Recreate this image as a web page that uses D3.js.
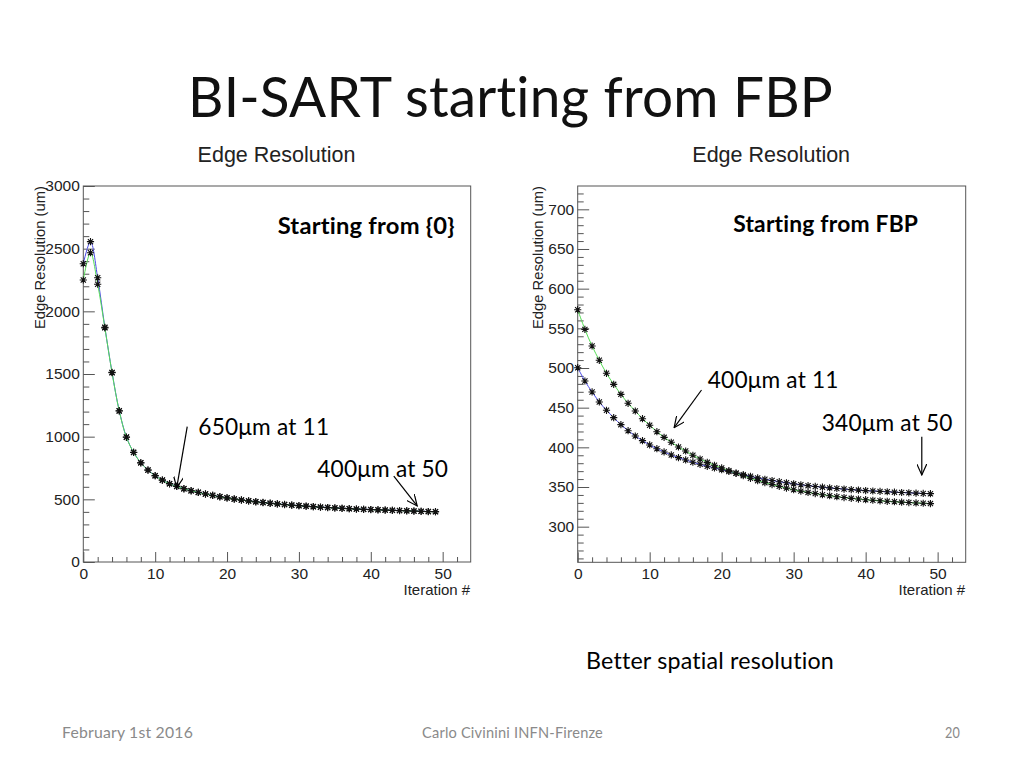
<!DOCTYPE html>
<html>
<head>
<meta charset="utf-8">
<script src="https://cdn.jsdelivr.net/npm/d3@7"></script>
<style>
  html, body { margin: 0; padding: 0; background: #fff; }
  svg { display: block; }
  text.slide { font-variant-ligatures: none; font-feature-settings: "liga" 0, "clig" 0; letter-spacing: 0.2px; }
</style>
</head>
<body>
<svg id="chart" width="1024" height="768"></svg>
<script>
// ---------------- DATA ----------------
const iterations = d3.range(0, 50); // iteration index 0..49

// Left panel: starting from {0}
const leftBlue = [2380, 2556, 2268, 1873, 1513, 1207, 997, 875, 792, 734,
  689, 654, 625, 604, 585, 569, 556, 543, 532, 521,
  512, 503, 495, 488, 481, 475, 469, 464, 459, 454,
  450, 446, 442, 438, 435, 432, 429, 426, 423, 421,
  419, 417, 415, 413, 411, 409, 407, 405, 403, 402];
const leftGreen = [2250, 2468, 2216, 1868, 1510, 1205, 995, 874, 791, 733,
  688, 653, 624, 603, 584, 568, 555, 542, 531, 520,
  511, 502, 494, 487, 480, 474, 468, 463, 458, 453,
  449, 445, 441, 437, 434, 431, 428, 425, 422, 420,
  418, 416, 414, 412, 410, 408, 406, 404, 402, 401];

// Right panel: starting from FBP
const rightBlue = [500.4, 483.6, 469.8, 457.2, 446.7, 437.4, 428.6, 421.0, 414.3, 408.4,
  403.0, 398.3, 394.2, 390.4, 387.0, 384.1, 381.2, 378.6, 376.1, 374.0,
  371.8, 369.6, 367.5, 365.6, 363.5, 361.5, 359.8, 358.2, 356.7, 355.3,
  354.0, 352.8, 351.7, 350.7, 349.8, 348.9, 348.1, 347.4, 346.7, 346.1,
  345.5, 345.0, 344.5, 344.0, 343.5, 343.1, 342.7, 342.3, 341.9, 341.6];
const rightGreen = [573.5, 548.7, 527.7, 509.7, 493.3, 479.4, 466.8, 455.5, 445.8, 436.1,
  427.8, 419.7, 412.6, 406.4, 400.4, 395.4, 390.0, 385.3, 381.1, 377.4,
  374.0, 370.6, 367.3, 364.3, 361.0, 358.0, 355.5, 353.0, 350.8, 348.6,
  346.6, 344.8, 343.2, 341.7, 340.3, 339.0, 337.8, 336.7, 335.7, 334.8,
  334.0, 333.3, 332.6, 332.0, 331.4, 330.9, 330.4, 329.9, 329.5, 329.1];

// Axis tick values
const xMajorTicks = [0, 10, 20, 30, 40, 50];
const xMinorTicks = d3.range(0, 54, 2);
const leftYMajorTicks = [0, 500, 1000, 1500, 2000, 2500, 3000];
const leftYMinorTicks = d3.range(0, 3001, 100);
const rightYMajorTicks = [300, 350, 400, 450, 500, 550, 600, 650, 700];
const rightYMinorTicks = d3.range(260, 730, 10);

// Text
const slideTitle = "BI-SART starting from FBP";
const panelTitle = "Edge Resolution";
const yAxisTitle = "Edge Resolution (um)";
const xAxisTitle = "Iteration #";
const leftLabel = "Starting from {0}";
const rightLabel = "Starting from FBP";
const leftNotes = [
  { text: "650\u03bcm at 11", tx: 16.0, ty: 1013, from: [14.46, 1080], to: [13.0, 593] },
  { text: "400\u03bcm at 50", tx: 32.55, ty: 676, from: [43.2, 686], to: [46.45, 447] }
];
const rightNotes = [
  { text: "400\u03bcm at 11", tx: 18.06, ty: 474.4, from: [17.2, 472.3], to: [13.4, 424.8] },
  { text: "340\u03bcm at 50", tx: 33.9, ty: 421, from: [47.8, 413.4], to: [47.8, 365.2] }
];
const bottomNote = "Better spatial resolution";
const footerDate = "February 1st 2016";
const footerAuthor = "Carlo Civinini INFN-Firenze";
const footerPage = "20";

// ---------------- DRAWING ----------------
const svg = d3.select("#chart");
svg.append("rect").attr("width", 1024).attr("height", 768).attr("fill", "#fff");

const defs = svg.append("defs");
defs.append("marker")
  .attr("id", "openArrow")
  .attr("markerUnits", "userSpaceOnUse")
  .attr("viewBox", "0 0 12 10")
  .attr("refX", 11).attr("refY", 5)
  .attr("markerWidth", 12).attr("markerHeight", 10)
  .attr("orient", "auto")
  .append("path")
  .attr("d", "M0,0 L11,5 L0,10")
  .attr("fill", "none").attr("stroke", "#000").attr("stroke-width", 1.2);

const SLIDE_FONT = "Lato, 'Open Sans', sans-serif";
const ROOT_FONT = "'Liberation Sans', Arial, Helvetica, sans-serif";

function fitText(sel, w) {
  sel.attr("class", "slide").attr("textLength", w).attr("lengthAdjust", "spacingAndGlyphs");
  return sel;
}

// Slide title
fitText(svg.append("text")
  .attr("x", 188).attr("y", 117)
  .attr("font-family", SLIDE_FONT).attr("font-size", 57)
  .attr("fill", "#111")
  .text(slideTitle), 645);

function starPath(s) {
  const a = s * 0.72;
  return `M${-s},0H${s}M0,${-s}V${s}M${-a},${-a}L${a},${a}M${-a},${a}L${a},${-a}`;
}

function drawPanel(cfg) {
  const { left, right, top, bottom } = cfg.frame;
  const x = d3.scaleLinear().domain(cfg.xDomain).range([left, right]);
  const y = d3.scaleLinear().domain(cfg.yDomain).range([bottom, top]);
  const g = svg.append("g");

  // panel title
  g.append("text")
    .attr("x", (left + right) / 2 - 0.5).attr("y", 162)
    .attr("text-anchor", "middle")
    .attr("font-family", ROOT_FONT).attr("font-size", 21.5)
    .attr("fill", "#222")
    .text(panelTitle);

  // frame
  g.append("rect")
    .attr("x", left).attr("y", top)
    .attr("width", right - left).attr("height", bottom - top)
    .attr("fill", "none").attr("stroke", "#555").attr("stroke-width", 1);

  // minor ticks
  const xMinor = g.append("g").attr("transform", `translate(0,${bottom})`)
    .call(d3.axisBottom(x).tickValues(xMinorTicks.filter(v => xMajorTicks.indexOf(v) < 0)).tickSize(-5).tickFormat(""));
  const yMinor = g.append("g").attr("transform", `translate(${left},0)`)
    .call(d3.axisLeft(y).tickValues(cfg.yMinor.filter(v => cfg.yMajor.indexOf(v) < 0)).tickSize(-6).tickFormat(""));

  // major ticks
  const xAx = g.append("g").attr("transform", `translate(0,${bottom})`)
    .call(d3.axisBottom(x).tickValues(xMajorTicks).tickSize(-10).tickPadding(5.5).tickFormat(d3.format("d")));
  const yAx = g.append("g").attr("transform", `translate(${left},0)`)
    .call(d3.axisLeft(y).tickValues(cfg.yMajor).tickSize(-11.5).tickPadding(3.5).tickFormat(d3.format("d")));

  [xMinor, yMinor, xAx, yAx].forEach(a => {
    a.select(".domain").remove();
    a.selectAll(".tick line").attr("stroke", "#555").attr("stroke-width", 1);
    a.selectAll("text").attr("font-family", ROOT_FONT).attr("font-size", 15.5).attr("fill", "#222");
  });

  // axis titles
  g.append("text")
    .attr("x", right - 0.5).attr("y", 595)
    .attr("text-anchor", "end")
    .attr("font-family", ROOT_FONT).attr("font-size", 15)
    .attr("fill", "#222")
    .text(xAxisTitle);

  const clipId = "clip" + cfg.id;
  defs.append("clipPath").attr("id", clipId)
    .append("rect").attr("x", cfg.yTitleX - 10).attr("y", 150).attr("width", 30).attr("height", 250);
  g.append("g")
    .attr("clip-path", `url(#${clipId})`)
    .append("text")
    .attr("transform", `translate(${cfg.yTitleX},${top}) rotate(-90)`)
    .attr("text-anchor", "end")
    .attr("font-family", ROOT_FONT).attr("font-size", 14.8)
    .attr("fill", "#222")
    .text(yAxisTitle);

  // curves
  const line = d3.line()
    .x((d, i) => x(iterations[i]))
    .y(d => y(d))
    .curve(d3.curveCatmullRom.alpha(0.5));
  cfg.series.forEach(s => {
    g.append("path")
      .attr("d", line(s.values))
      .attr("fill", "none")
      .attr("stroke", s.color)
      .attr("stroke-width", 1);
  });
  cfg.series.forEach(s => {
    g.append("g").selectAll("path")
      .data(s.values)
      .join("path")
      .attr("transform", (d, i) => `translate(${x(iterations[i])},${y(d)})`)
      .attr("d", starPath(3.6))
      .attr("fill", "none")
      .attr("stroke", "#111")
      .attr("stroke-width", 1.1);
  });

  // inner label
  fitText(g.append("text")
    .attr("x", x(cfg.label.x)).attr("y", y(cfg.label.y))
    .attr("font-family", SLIDE_FONT).attr("font-weight", 700).attr("font-size", 22)
    .attr("fill", "#000")
    .text(cfg.label.text), cfg.label.w);

  // annotations
  cfg.notes.forEach(n => {
    fitText(g.append("text")
      .attr("x", x(n.tx)).attr("y", y(n.ty))
      .attr("font-family", SLIDE_FONT).attr("font-size", 23)
      .attr("fill", "#000")
      .text(n.text), 131);
    g.append("line")
      .attr("x1", x(n.from[0])).attr("y1", y(n.from[1]))
      .attr("x2", x(n.to[0])).attr("y2", y(n.to[1]))
      .attr("stroke", "#000").attr("stroke-width", 1.2)
      .attr("marker-end", "url(#openArrow)");
  });
}

drawPanel({
  id: "L",
  frame: { left: 83.3, right: 470.7, top: 186, bottom: 562 },
  xDomain: [0, 53.9], yDomain: [0, 3000],
  yMajor: leftYMajorTicks, yMinor: leftYMinorTicks,
  yTitleX: 44.5,
  series: [
    { values: leftBlue, color: "#4a4ae6" },
    { values: leftGreen, color: "#55dd55" }
  ],
  label: { text: leftLabel, x: 27.04, y: 2615, w: 177 },
  notes: leftNotes
});

drawPanel({
  id: "R",
  frame: { left: 577.7, right: 965.7, top: 186, bottom: 562.3 },
  xDomain: [0, 53.9], yDomain: [255.1, 729.4],
  yMajor: rightYMajorTicks, yMinor: rightYMinorTicks,
  yTitleX: 542.5,
  series: [
    { values: rightBlue, color: "#4a4ae6" },
    { values: rightGreen, color: "#55dd55" }
  ],
  label: { text: rightLabel, x: 21.6, y: 671.7, w: 185 },
  notes: rightNotes
});

// bottom note and footer
fitText(svg.append("text")
  .attr("x", 586).attr("y", 669)
  .attr("font-family", SLIDE_FONT).attr("font-size", 23)
  .attr("fill", "#000")
  .text(bottomNote), 248);

const footer = [
  { t: footerDate, x: 62, w: 131 },
  { t: footerAuthor, x: 422, w: 181 },
  { t: footerPage, x: 945, w: 15 }
];
footer.forEach(f => {
  fitText(svg.append("text")
    .attr("x", f.x).attr("y", 738)
    .attr("font-family", SLIDE_FONT).attr("font-size", 15)
    .attr("fill", "#8a8a8a")
    .text(f.t), f.w);
});
</script>
</body>
</html>
